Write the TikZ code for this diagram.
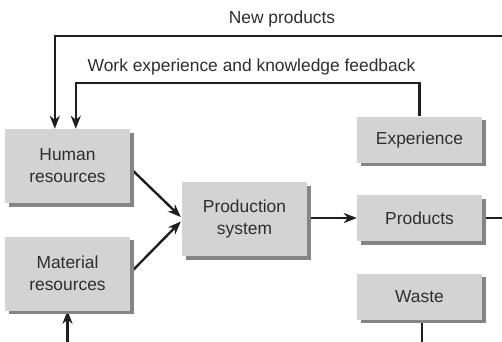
\documentclass[tikz,border=0pt]{standalone}
\usepackage{fontspec}
\setmainfont{Liberation Sans}
\usetikzlibrary{arrows.meta,shadows,calc,backgrounds}
\definecolor{boxfill}{HTML}{D3D3D3}
\definecolor{shadowc}{HTML}{858585}
\definecolor{txt}{HTML}{2E2E2E}
\definecolor{ln}{HTML}{1E1E1E}
\begin{document}
\begin{tikzpicture}[x=1pt,y=-1pt,
  every node/.style={font=\fontsize{17.4}{22}\selectfont, text=txt},
  blk/.style={fill=boxfill, draw=none, minimum width=125pt, align=center, inner sep=0pt,
    general shadow={shadow xshift=3.5pt, shadow yshift=-3.5pt, fill=shadowc, opacity=1}},
  tall/.style={blk, minimum height=74pt},
  short/.style={blk, minimum height=46pt},
  conn/.style={draw=ln, line width=2.4pt},
  arr/.style={conn, -{Stealth[length=13pt,width=10pt,inset=4pt]}}]
\useasboundingbox (0,0) rectangle (502,341);
\node[tall] (hr) at (67.5,166) {Human\\resources};
\node[tall] (ma) at (67.5,273.5) {Material\\resources};
\node[tall] (ps) at (244.5,219) {Production\\system};
\node[short] (ex) at (419.5,139.5) {Experience};
\node[short] (pr) at (419.5,218) {Products};
\node[short] (wa) at (419.5,296.5) {Waste};
\node (np) at (282,19) {New products};
\node (wk) at (251.5,67) {Work experience and knowledge feedback};
\coordinate (rc) at (512,36);
\coordinate (fb) at (419.5,83);
\coordinate (mb) at (67.5,350);
\coordinate (wb) at (422,350);
\coordinate (h1) at ($(hr.north west)+(50,0)$);
\coordinate (h2) at ($(hr.north west)+(71,0)$);
\coordinate (hs) at ($(hr.east)+(0,2)$);
\coordinate (ms) at ($(ma.east)+(0,-0.5)$);
\coordinate (pt1) at ($(ps.west)+(-1,-2)$);
\coordinate (pt2) at ($(ps.west)+(-1,2.5)$);
\coordinate (ws) at ($(wa.south)+(2.5,0)$);
\begin{scope}[on background layer]
\draw[arr] (hs) -- (pt1);
\draw[arr] (ms) -- (pt2);
\draw[arr] (ps.east |- pr.west) -- (pr.west);
\draw[arr] (pr.east) -- (pr.east -| rc) -- (rc) -- (h1 |- rc) -- (h1);
\draw[arr] (ex.north) -- (fb) -- (h2 |- fb) -- (h2);
\draw[arr] (mb) -- (ma.south);
\draw[conn] (ws) -- (wb);
\end{scope}
\end{tikzpicture}
\end{document}
